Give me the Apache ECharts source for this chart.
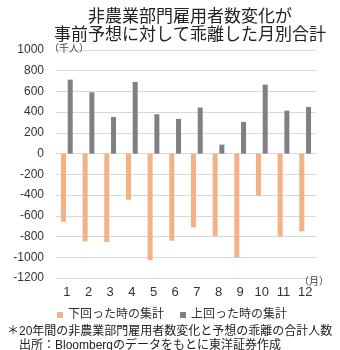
<!DOCTYPE html>
<html><head><meta charset="utf-8">
<script src="https://cdn.jsdelivr.net/npm/echarts@6/dist/echarts.min.js"></script>
<style>html,body{margin:0;padding:0;background:#fff}#c{width:340px;height:350px}</style>
</head><body><div id="c"></div>
<script>
const months = ['1','2','3','4','5','6','7','8','9','10','11','12'];
const below = [-656,-846,-852,-444,-1030,-840,-711,-795,-1001,-408,-801,-750];
const above = [714,592,354,692,380,335,444,87,306,666,415,451];
const seriesNames = ['下回った時の集計','上回った時の集計'];
const titleLines = '非農業部門雇用者数変化が\n事前予想に対して乖離した月別合計';
const yUnit = '（千人）';
const xUnit = '（月）';
const note1 = '＊20年間の非農業部門雇用者数変化と予想の乖離の合計人数';
const note2 = '出所：Bloombergのデータをもとに東洋証券作成';

const FF = '"Liberation Sans", Arial, "Noto Sans CJK JP", sans-serif';
const chart = echarts.init(document.getElementById('c'), null, {renderer:'canvas'});
chart.setOption({
  animation:false,
  textStyle:{fontFamily:FF},
  title:[
    {text:titleLines, left:185, textAlign:'center', top:3,
     textStyle:{fontFamily:FF, fontSize:17, fontWeight:'normal', color:'#222', lineHeight:18}},
    {text:yUnit, left:44, top:39, textStyle:{fontFamily:FF, fontSize:10, fontWeight:'normal', color:'#444'}},
    {text:xUnit, left:294, top:272, textStyle:{fontFamily:FF, fontSize:10, fontWeight:'normal', color:'#444'}},
    {text:note1, left:2, top:321, textStyle:{fontFamily:FF, fontSize:12, fontWeight:'normal', color:'#222'}},
    {text:note2, left:14, top:335, textStyle:{fontFamily:FF, fontSize:12, fontWeight:'normal', color:'#222'}}
  ],
  legend:{
    data:seriesNames, top:304, left:52, itemWidth:6, itemHeight:6, itemGap:16, icon:'rect',
    textStyle:{fontFamily:FF, fontSize:12, color:'#333'}
  },
  grid:{left:56, right:24, top:50, bottom:72, containLabel:false},
  xAxis:{
    type:'category', data:months,
    axisLine:{show:false}, axisTick:{show:false},
    axisLabel:{fontSize:13, color:'#333', margin:8, fontFamily:FF}
  },
  yAxis:{
    type:'value', min:-1200, max:1000, interval:200,
    axisLine:{show:false}, axisTick:{show:false},
    axisLabel:{fontSize:12, color:'#333', margin:12, fontFamily:FF, formatter:function(v){return String(v);}},
    splitLine:{lineStyle:{color:'#d9d9d9', width:1}}
  },
  series:[
    {name:seriesNames[0], type:'bar', data:below, barWidth:5, barGap:'35%', itemStyle:{color:'#F4B183'}},
    {name:seriesNames[1], type:'bar', data:above, barWidth:5, itemStyle:{color:'#808080'}}
  ]
});
</script></body></html>
